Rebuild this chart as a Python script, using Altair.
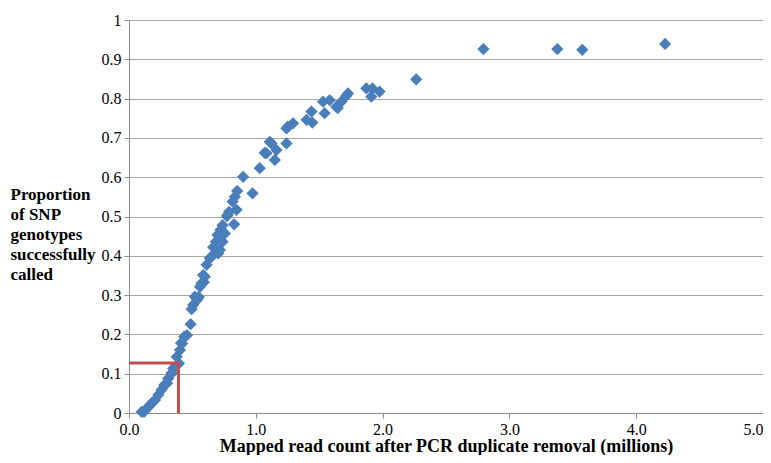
import altair as alt
import pandas as pd

# Mapped read count (millions) and proportion of SNP genotypes called
read_count = [
    0.100, 0.126, 0.152, 0.179, 0.205, 0.231, 0.257, 0.278, 0.309, 0.336,
    0.349, 0.394, 0.376, 0.402, 0.420, 0.435, 0.457, 0.486, 0.494, 0.506,
    0.520, 0.538, 0.559, 0.572, 0.598, 0.585, 0.612, 0.651, 0.703, 0.664,
    0.717, 0.685, 0.738, 0.698, 0.756, 0.722, 0.738, 0.829, 0.777, 0.790,
    0.848, 0.817, 0.835, 0.853, 0.974, 0.900, 1.031, 1.084, 1.124, 1.150,
    1.163, 1.242, 1.242, 1.294, 1.400, 1.439, 1.446, 1.543, 1.530, 1.583,
    1.635, 1.675, 1.727, 1.872, 1.911, 1.976, 1.920, 1.714, 1.646, 1.110,
    1.070, 1.252, 2.265, 2.795, 3.378, 3.575, 4.228, 0.638, 0.551, 0.339,
    0.300, 0.165, 0.118, 0.410, 0.590, 0.772,
]
prop_called = [
    0.003, 0.006, 0.015, 0.025, 0.033, 0.046, 0.059, 0.071, 0.088, 0.101,
    0.114, 0.126, 0.143, 0.160, 0.177, 0.194, 0.198, 0.226, 0.264, 0.275,
    0.296, 0.288, 0.321, 0.330, 0.347, 0.351, 0.377, 0.398, 0.406, 0.422,
    0.415, 0.436, 0.436, 0.453, 0.457, 0.466, 0.478, 0.480, 0.504, 0.512,
    0.517, 0.538, 0.550, 0.565, 0.559, 0.601, 0.623, 0.661, 0.686, 0.644,
    0.669, 0.686, 0.724, 0.737, 0.746, 0.767, 0.739, 0.763, 0.792, 0.796,
    0.779, 0.792, 0.813, 0.826, 0.805, 0.818, 0.826, 0.807, 0.776, 0.690,
    0.662, 0.729, 0.849, 0.926, 0.926, 0.924, 0.939, 0.394, 0.295, 0.102,
    0.076, 0.020, 0.003, 0.178, 0.333, 0.501,
]

# Threshold marker (red lines): along y = 0.127 then down x = 0.39
threshold_path_x = [0.0, 0.39, 0.39]
threshold_path_y = [0.127, 0.127, 0.0]

y_ticks = [0, 0.1, 0.2, 0.3, 0.4, 0.5, 0.6, 0.7, 0.8, 0.9, 1]
x_ticks = [0, 1, 2, 3, 4, 5]

pts = pd.DataFrame({"x": read_count, "y": prop_called})
path = pd.DataFrame({"x": threshold_path_x, "y": threshold_path_y,
                     "o": list(range(len(threshold_path_x)))})

FONT = "Liberation Serif"
AX = "#8c8c8c"

xaxis = alt.Axis(
    values=x_ticks, labelExpr="format(datum.value, '.1f')",
    labelColor="black", labelFont=FONT, labelFontSize=16, labelFlush=False,
    labelAlign={"condition": {"test": "datum.value >= 5", "value": "right"}, "value": "center"},
    labelPadding=3, grid=False,
    domainColor=AX, tickColor=AX, tickSize=5,
    title="Mapped read count after PCR duplicate removal (millions)",
    titleFont=FONT, titleFontSize=18, titleFontWeight="bold", titleColor="black",
    titleBaseline="top", titleY=24,
)
yaxis = alt.Axis(
    values=y_ticks,
    labelExpr="datum.value == 0 || datum.value == 1 ? format(datum.value, 'd') : format(datum.value, '.1f')",
    labelColor="black", labelFont=FONT, labelFontSize=16, labelFlush=False,
    labelPadding=3, gridColor="#a6a6a6",
    domainColor=AX, tickColor=AX, tickSize=5,
    title=["Proportion", "of SNP", "genotypes", "successfully", "called"],
    titleFont=FONT, titleFontSize=17, titleFontWeight="bold", titleColor="black",
    titleAngle=0, titleAlign="left", titleBaseline="top",
    titleX=-119, titleY=166, titleLineHeight=20,
)

xscale = alt.Scale(domain=[0, 5])
yscale = alt.Scale(domain=[0, 1])

points = alt.Chart(pts).mark_point(
    shape="diamond", filled=True, size=150, color="#4A7EBB", opacity=1
).encode(
    x=alt.X("x:Q", scale=xscale, axis=xaxis),
    y=alt.Y("y:Q", scale=yscale, axis=yaxis),
)

red = alt.Chart(path).mark_line(color="#C0504D", strokeWidth=3).encode(
    x=alt.X("x:Q", scale=xscale, axis=xaxis),
    y=alt.Y("y:Q", scale=yscale, axis=yaxis),
    order="o:Q",
)

chart = alt.layer(points, red).properties(
    width=634, height=393,
    autosize=alt.AutoSizeParams(type="none"),
    padding={"left": 121, "top": 12, "right": 0, "bottom": 42},
).configure_view(stroke=None)

chart.save("out.html", embed_options={"renderer": "svg", "actions": False})
